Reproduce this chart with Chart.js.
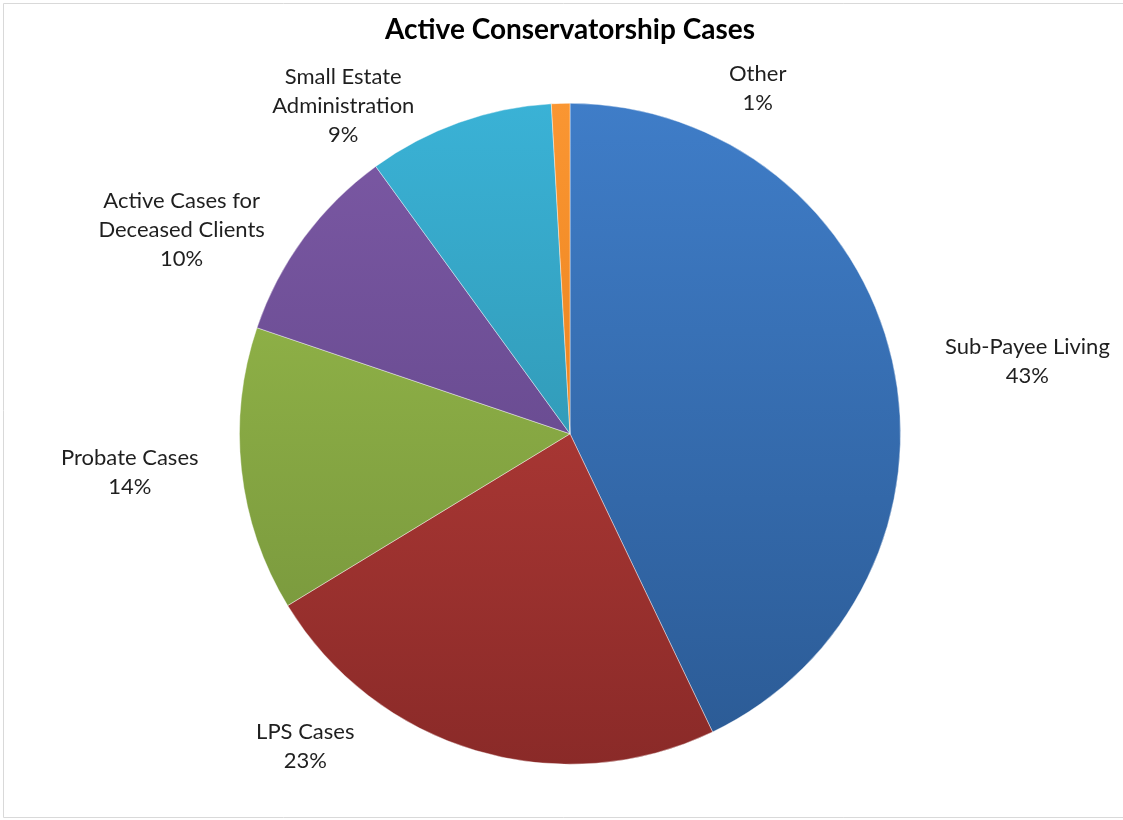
<!DOCTYPE html>
<html lang="en">
<head>
<meta charset="UTF-8">
<title>Active Conservatorship Cases</title>
<script src="https://cdn.jsdelivr.net/npm/chart.js@4"></script>
<style>
    html, body {
        margin: 0;
        padding: 0;
        background: #fff;
        overflow: hidden;
    }
    .wrap {
        position: absolute;
        left: 0;
        top: 0;
        width: 1123px;
        height: 820px;
    }
</style>
</head>
<body>
<div class="wrap"><canvas id="pieChart"></canvas></div>
<script>
    // data
    const categories = [
        ['Sub-Payee Living'],
        ['LPS Cases'],
        ['Probate Cases'],
        ['Active Cases for', 'Deceased Clients'],
        ['Small Estate', 'Administration'],
        ['Other']
    ];
    const shares = [42.9, 23.4, 13.9, 9.8, 9.1, 0.9];

    // light -> dark per slice (Office 2007 gradient look)
    const sliceColors = [
        ['#3f7dc8', '#2b5a94'],
        ['#c4423e', '#8a2a28'],
        ['#9bbf4c', '#72903a'],
        ['#7c59a5', '#594080'],
        ['#3ab2d6', '#2a869d'],
        ['#fa9632', '#e0740e']
    ];

    // where each label sits, relative to the pie centre, in radii
    const labelSpots = [
        [1.384, -0.219],
        [-0.801, 0.946],
        [-1.332, 0.118],
        [-1.175, -0.616],
        [-0.686, -0.991],
        [0.568, -1.045]
    ];

    function sliceFill(ctx) {
        const chart = ctx.chart;
        const area = chart.chartArea;
        const c = sliceColors[ctx.dataIndex];
        if (!area) return c[0];
        const g = chart.ctx.createLinearGradient(0, area.top, 0, area.bottom);
        g.addColorStop(0, c[0]);
        g.addColorStop(1, c[1]);
        return g;
    }

    // thin grey chart frame, open on the right like the original crop
    const chartFrame = {
        id: 'chartFrame',
        beforeDraw(chart) {
            const ctx = chart.ctx;
            ctx.save();
            ctx.strokeStyle = '#d9d9d9';
            ctx.lineWidth = 1;
            ctx.beginPath();
            ctx.moveTo(chart.width, 3.5);
            ctx.lineTo(3.5, 3.5);
            ctx.lineTo(3.5, 817.5);
            ctx.lineTo(chart.width, 817.5);
            ctx.stroke();
            ctx.restore();
        }
    };

    const outsideLabels = {
        id: 'outsideLabels',
        afterDatasetsDraw(chart) {
            const ctx = chart.ctx;
            const arcs = chart.getDatasetMeta(0).data;
            if (!arcs.length) return;
            const cx = arcs[0].x, cy = arcs[0].y, r = arcs[0].outerRadius;
            ctx.save();
            ctx.font = '22px Lato, "Open Sans", sans-serif';
            ctx.fillStyle = '#1f1f1f';
            ctx.textAlign = 'center';
            ctx.textBaseline = 'middle';
            const lineH = 29;
            arcs.forEach((arc, i) => {
                const lines = categories[i].concat([Math.round(shares[i]) + '%']);
                const x = cx + labelSpots[i][0] * r;
                const y0 = cy + labelSpots[i][1] * r - (lines.length - 1) * lineH / 2;
                lines.forEach((t, k) => ctx.fillText(t, x, y0 + k * lineH));
            });
            ctx.restore();
        }
    };

    const canvas = document.getElementById('pieChart');
    canvas.width = 1123;
    canvas.height = 820;

    new Chart(canvas.getContext('2d'), {
        type: 'pie',
        data: {
            labels: categories.map(c => c.join(' ')),
            datasets: [{
                data: shares,
                backgroundColor: sliceFill,
                borderColor: 'rgba(255,255,255,0.4)',
                borderWidth: 1
            }]
        },
        options: {
            responsive: false,
            animation: false,
            layout: {
                padding: { top: 0, bottom: 54, left: 239, right: 222 }
            },
            plugins: {
                legend: { display: false },
                tooltip: { enabled: false },
                title: {
                    display: true,
                    text: 'Active Conservatorship Cases',
                    color: '#000',
                    font: { family: 'Lato, "Open Sans", sans-serif', size: 28, weight: 'bold', lineHeight: 1.2 },
                    padding: { top: 13, bottom: 55 }
                }
            }
        },
        plugins: [chartFrame, outsideLabels]
    });
</script>
</body>
</html>
